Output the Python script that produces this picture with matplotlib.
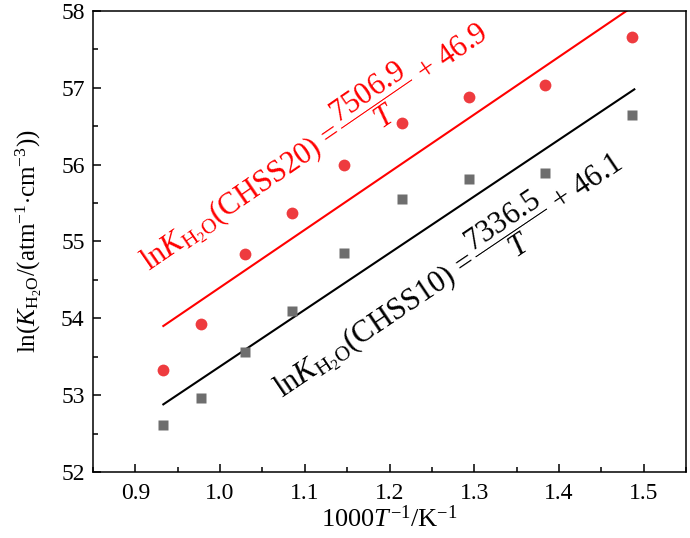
import matplotlib
matplotlib.use("Agg")
import matplotlib.pyplot as plt
from matplotlib.ticker import MultipleLocator

plt.rcParams['font.family'] = ['Liberation Serif', 'DejaVu Serif']
plt.rcParams['mathtext.fontset'] = 'custom'
plt.rcParams['mathtext.rm'] = 'Liberation Serif'
plt.rcParams['mathtext.it'] = 'Liberation Serif:italic'
plt.rcParams['mathtext.bf'] = 'Liberation Serif:bold'

# 1000/T for T = 1072 ... 673 K
inv_T = [0.933, 0.978, 1.029, 1.085, 1.146, 1.215, 1.294, 1.383, 1.486]
ln_k_chss20 = [53.33, 53.92, 54.84, 55.37, 55.99, 56.54, 56.88, 57.04, 57.66]
ln_k_chss10 = [52.61, 52.96, 53.56, 54.10, 54.85, 55.55, 55.81, 55.89, 56.65]

# fitted lines (end points)
fit_x = [0.933, 1.489]
fit_chss20 = [53.90, 58.07]
fit_chss10 = [52.88, 56.98]

fig = plt.figure(figsize=(6.9, 5.38), dpi=100)
ax = fig.add_axes([0.1348, 0.1227, 0.8594, 0.8569])

ax.plot(fit_x, fit_chss20, color='#ff0000', lw=1.5, zorder=2)
ax.plot(fit_x, fit_chss10, color='black', lw=1.5, zorder=2)
ax.plot(inv_T, ln_k_chss20, 'o', color='#ee3b3f', ms=8.5, mec='none', zorder=3)
ax.plot(inv_T, ln_k_chss10, 's', color='#6e6e6e', ms=7, mec='none', zorder=3)

ax.set_xlim(0.85, 1.55)
ax.set_ylim(52, 58)
ax.xaxis.set_major_locator(MultipleLocator(0.1))
ax.xaxis.set_minor_locator(MultipleLocator(0.05))
ax.yaxis.set_major_locator(MultipleLocator(1))
ax.yaxis.set_minor_locator(MultipleLocator(0.5))
ax.tick_params(which='both', direction='in', top=False, right=False,
               labelsize=17, width=1.1)
ax.tick_params(which='major', length=6)
ax.tick_params(which='minor', length=3.5)
ax.tick_params(axis='x', pad=8)
ax.tick_params(axis='y', pad=6)
for s in ax.spines.values():
    s.set_linewidth(1.1)

ax.set_xlabel(r'1000$T^{\mathrm{-1}}$/K$^{\mathrm{-1}}$', fontsize=19, labelpad=1)
ax.set_ylabel(r'ln($K_{\mathrm{H_2O}}$/(atm$^{\mathrm{-1}}$$\cdot$cm$^{\mathrm{-3}}$))',
              fontsize=18, labelpad=12)

ax.text(0.916, 54.60,
        r'ln$K_{\mathrm{H_2O}}$(CHSS20) =$\,\dfrac{7506.9}{T}$ + 46.9',
        color='#ff0000', fontsize=22, rotation=34.5, rotation_mode='anchor',
        ha='left', va='baseline')
ax.text(1.073, 52.96,
        r'ln$K_{\mathrm{H_2O}}$(CHSS10) =$\,\dfrac{7336.5}{T}$ + 46.1',
        color='black', fontsize=22, rotation=34, rotation_mode='anchor',
        ha='left', va='baseline')

fig.savefig('out.png', dpi=100)
